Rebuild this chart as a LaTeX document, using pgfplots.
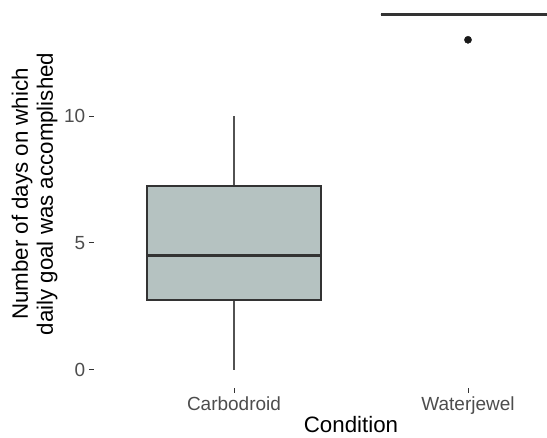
\documentclass[border=0pt]{standalone}
\usepackage{pgfplots}
\pgfplotsset{compat=1.18}
\usepgfplotslibrary{statistics}
\usepackage{fontspec}
\setmainfont{Liberation Sans}
\definecolor{boxfill}{RGB}{181,194,193}
\definecolor{grey20}{RGB}{51,51,51}
\definecolor{grey30}{RGB}{77,77,77}
\begin{document}
\begin{tikzpicture}
\begin{axis}[name=ax,
 scale only axis, width=453.4pt, height=388pt,
 xmin=0.4, xmax=2.3376, ymin=-0.709, ymax=14.567,
 axis line style={draw=none},
 xtick={1,2}, xticklabels={Carbodroid,Waterjewel},
 ytick={0,5,10},
 xtick pos=bottom, ytick pos=left,
 tick align=outside, major tick length=4.8pt,
 tick style={grey20, line width=1pt},
 ticklabel style={font=\fontsize{19}{22}\selectfont, text=grey30},
 /pgf/number format/assume math mode=true,
 xlabel={Condition},
 ylabel={Number of days on which\\daily goal was accomplished},
 xlabel style={font=\fontsize{22.3}{26}\selectfont, inner sep=0pt, at={(axis description cs:0.5677,-0.1150)}, anchor=base},
 ylabel style={font=\fontsize{22.3}{25}\selectfont, align=center, at={(axis description cs:-0.130,0.5)}, anchor=center},
 clip=true,
 boxplot/draw direction=y,
 boxplot/box extend=0.744,
 boxplot/whisker extend=0,
 boxplot/every box/.style={draw=grey20, fill=boxfill, line width=1.4pt},
 boxplot/every whisker/.style={draw=grey20!85, line width=1.3pt},
 boxplot/every median/.style={draw=grey20, line width=3pt},
]
\addplot[boxplot prepared={lower whisker=0, lower quartile=2.75, median=4.5, upper quartile=7.25, upper whisker=10, draw position=1}, draw=grey20] coordinates {};
\addplot[boxplot prepared={lower whisker=14, lower quartile=14, median=14, upper quartile=14, upper whisker=14, draw position=2}, draw=grey20, mark=*, mark size=3.6pt, mark options={fill=black!90, draw=black!90}] coordinates {(2,13)};
\end{axis}
\pgfresetboundingbox
\path[use as bounding box] ([xshift=-93.6pt,yshift=-49pt]ax.south west) rectangle (ax.north east);
\end{tikzpicture}
\end{document}
